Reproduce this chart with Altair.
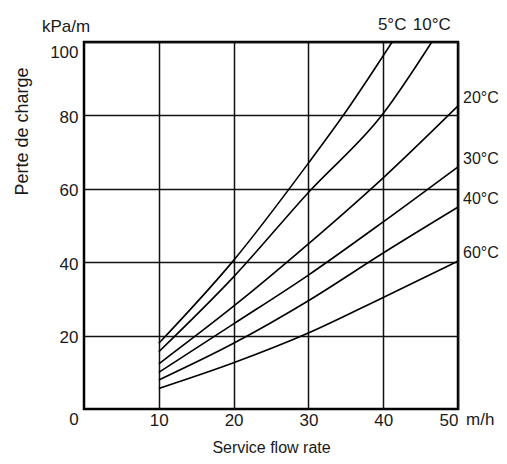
import altair as alt
import pandas as pd

# Curves: flow (m/h) vs pressure loss (kPa/m), one series per water temperature
temps = ["5°C", "10°C", "20°C", "30°C", "40°C", "60°C"]
flow_5 = [10, 20, 30, 35, 41.2]
loss_5 = [17.9, 40.5, 67, 81, 100]
flow_10 = [10, 20, 30, 40, 46.5]
loss_10 = [15.6, 36, 59, 80.5, 100]
flow_std = [10, 20, 30, 40, 50]
loss_20 = [12.3, 28, 45, 63, 82.6]
loss_30 = [10, 23.2, 36.5, 51, 66]
loss_40 = [7.9, 17.9, 29.5, 42.5, 55]
loss_60 = [5.6, 12.6, 20.7, 30.4, 40.3]

x_ticks = [10, 20, 30, 40, 50]
y_ticks = [20, 40, 60, 80, 100]

series = {
    "5°C": (flow_5, loss_5),
    "10°C": (flow_10, loss_10),
    "20°C": (flow_std, loss_20),
    "30°C": (flow_std, loss_30),
    "40°C": (flow_std, loss_40),
    "60°C": (flow_std, loss_60),
}
rows = []
for t in temps:
    xs, ys = series[t]
    for xv, yv in zip(xs, ys):
        rows.append({"temp": t, "flow": xv, "loss": yv})
df = pd.DataFrame(rows)

ends = df.groupby("temp", sort=False).last().reset_index()
top_lab = ends[ends["temp"].isin(["5°C", "10°C"])]
right_lab = ends[~ends["temp"].isin(["5°C", "10°C"])]

FONT = "Liberation Sans"
TXT = "#1a1a1a"

xscale = alt.Scale(domain=[0, 50], nice=False, zero=True)
yscale = alt.Scale(domain=[0, 100], nice=False, zero=True)

lines = alt.Chart(df).mark_line(
    interpolate="monotone", color="black", strokeWidth=1.6
).encode(
    x=alt.X("flow:Q", scale=xscale, axis=alt.Axis(
        values=x_ticks, grid=True, ticks=False, domain=False,
        labelFlush=True, labelPadding=3, labelFontSize=17,
        title="Service flow rate", titleY=38, titleBaseline="middle",
        titleFontSize=16, titleFontWeight="normal",
    )),
    y=alt.Y("loss:Q", scale=yscale, axis=alt.Axis(
        values=y_ticks, grid=True, ticks=False, domain=False,
        labelFlush=True, labelPadding=6, labelOffset=2, labelFontSize=17,
        title="Perte de charge", titleX=-62, titleY=89, titleAngle=270,
        titleAlign="center", titleBaseline="middle",
        titleFontSize=18, titleFontWeight="normal",
    )),
    detail="temp:N",
)

top_text = alt.Chart(top_lab).mark_text(
    dy=-17, align="center", baseline="middle", fontSize=17, font=FONT, color=TXT
).encode(x=alt.X("flow:Q", scale=xscale), y=alt.Y("loss:Q", scale=yscale), text="temp:N")

right_text = alt.Chart(right_lab).mark_text(
    dx=5, dy=-8, align="left", baseline="middle", fontSize=16, font=FONT, color=TXT
).encode(x=alt.X("flow:Q", scale=xscale), y=alt.Y("loss:Q", scale=yscale), text="temp:N")

origin_df = pd.DataFrame({"flow": [0], "loss": [0], "label": ["0"]})
zero_text = alt.Chart(origin_df).mark_text(
    dx=-10, dy=11, align="center", baseline="middle", fontSize=17, font=FONT, color=TXT
).encode(x=alt.X("flow:Q", scale=xscale), y=alt.Y("loss:Q", scale=yscale), text="label:N")

unit_df = pd.DataFrame({"flow": [0], "loss": [100], "label": ["kPa/m"]})
unit_text = alt.Chart(unit_df).mark_text(
    dx=-18, dy=-15, align="center", baseline="middle", fontSize=17, font=FONT, color=TXT
).encode(x=alt.X("flow:Q", scale=xscale), y=alt.Y("loss:Q", scale=yscale), text="label:N")

mh_df = pd.DataFrame({"flow": [50], "loss": [0], "label": ["m/h"]})
mh_text = alt.Chart(mh_df).mark_text(
    dx=8, dy=11, align="left", baseline="middle", fontSize=17, font=FONT, color=TXT
).encode(x=alt.X("flow:Q", scale=xscale), y=alt.Y("loss:Q", scale=yscale), text="label:N")

chart = alt.layer(lines, top_text, right_text, zero_text, unit_text, mh_text).properties(
    width=374, height=367,
    autosize=alt.AutoSizeParams(type="none"),
    padding={"left": 76, "top": 34, "right": 41, "bottom": 47},
    background="white",
).configure_view(
    stroke="black", strokeWidth=2.5
).configure_axis(
    gridColor="#111", gridOpacity=1, gridWidth=1.5,
    labelFont=FONT, titleFont=FONT, labelColor=TXT, titleColor=TXT,
)

chart.save("out.html", embed_options={"renderer": "svg", "actions": False})
